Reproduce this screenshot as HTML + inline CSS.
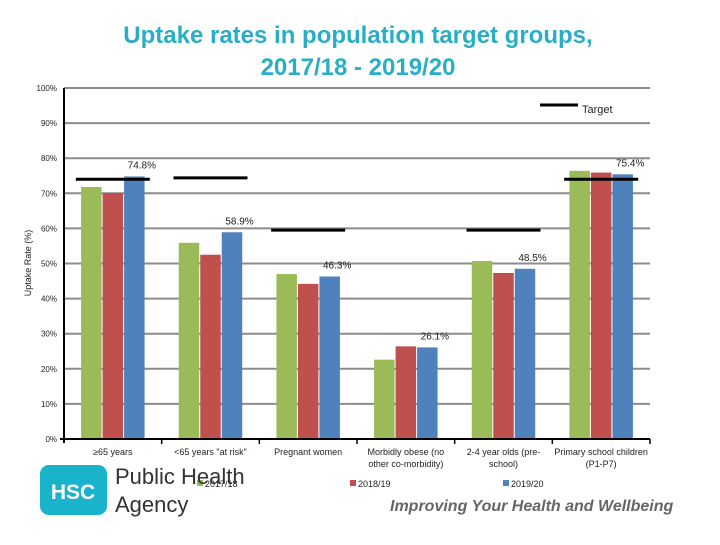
<!DOCTYPE html>
<html><head><meta charset="utf-8"><style>
body{margin:0;background:#fff;width:720px;height:540px;overflow:hidden;font-family:"Liberation Sans",sans-serif}
</style></head><body>
<svg width="720" height="540" xmlns="http://www.w3.org/2000/svg" id="chart">
<text x="358" y="43" text-anchor="middle" font-size="24" font-weight="bold" fill="#2aaec6">Uptake rates in population target groups,</text>
<text x="358" y="75" text-anchor="middle" font-size="24" font-weight="bold" fill="#2aaec6">2017/18 - 2019/20</text>
<g id="grid"></g><g id="bars"></g><g id="targets"></g><g id="labels"></g><g id="axes"></g>
<text transform="translate(31,263) rotate(-90)" text-anchor="middle" font-size="9" fill="#222">Uptake Rate (%)</text>
<line x1="540" y1="105" x2="578" y2="105" stroke="#000" stroke-width="3"/>
<text x="582" y="113" font-size="11" fill="#222">Target</text>
<g><rect x="197" y="480" width="6" height="6" fill="#9bbb59"/><text x="205" y="487" font-size="9" fill="#222">2017/18</text></g>
<g><rect x="350" y="480" width="6" height="6" fill="#c0504d"/><text x="358" y="487" font-size="9" fill="#222">2018/19</text></g>
<g><rect x="503" y="480" width="6" height="6" fill="#4f81bd"/><text x="511" y="487" font-size="9" fill="#222">2019/20</text></g>
<g>
<rect x="40" y="465" width="67" height="50" rx="9" fill="#1ab3cc"/>
<text x="73" y="499" text-anchor="middle" font-size="21" font-weight="bold" fill="#fff">HSC</text>
<text x="115" y="484" font-size="22" fill="#333">Public Health</text>
<text x="115" y="512" font-size="22" fill="#333">Agency</text>
</g>
<text x="390" y="511" font-size="16" font-weight="bold" font-style="italic" fill="#666">Improving Your Health and Wellbeing</text>
</svg>
<script>
const categories=[["≥65 years"],["<65 years \"at risk\""],["Pregnant women"],["Morbidly obese (no","other co-morbidity)"],["2-4 year olds (pre-","school)"],["Primary school children","(P1-P7)"]];
const s2017=[71.8,55.9,47.0,22.6,50.7,76.4];
const s2018=[70.1,52.5,44.2,26.4,47.3,75.9];
const s2019=[74.8,58.9,46.3,26.1,48.5,75.4];
const targets=[74,74.4,59.5,null,59.5,74];
const valueLabels=["74.8%","58.9%","46.3%","26.1%","48.5%","75.4%"];
const yTicks=[0,10,20,30,40,50,60,70,80,90,100];
const NS="http://www.w3.org/2000/svg";
const X0=64,X1=650,Y0=439,Y1=88,cw=(X1-X0)/categories.length;
const y=v=>Y0-(v/100)*(Y0-Y1);
const cx=i=>X0+cw*(i+0.5);
function mk(t,a,p){const e=document.createElementNS(NS,t);for(const k in a)e.setAttribute(k,a[k]);document.getElementById(p).appendChild(e);return e;}
yTicks.forEach(t=>{
 const g=mk('line',{x1:X0,x2:X1,y1:y(t),y2:y(t),stroke:'#8c8c8c','stroke-width':2},'grid');
 
 
 const tx=mk('text',{x:57,y:y(t)+3,'text-anchor':'end','font-size':8,fill:'#222'},'axes');
 tx.textContent=t+'%';
 
 
});
const ya=mk('line',{x1:X0,x2:X0,y1:Y1,y2:Y0+4,stroke:'#000','stroke-width':2},'axes');


const xa=mk('line',{x1:X0-4,x2:X1,y1:Y0,y2:Y0,stroke:'#000','stroke-width':2},'axes');


const series=[[s2017,'#9bbb59'],[s2018,'#c0504d'],[s2019,'#4f81bd']];
const bw=20.5,gap=1;
categories.forEach((c,i)=>{
 const tk=mk('line',{x1:X0+cw*(i+1),x2:X0+cw*(i+1),y1:Y0,y2:Y0+5,stroke:'#000','stroke-width':1.5},'axes');
 
 
 series.forEach((s,j)=>{
  const bx=cx(i)+(j-1.5)*(bw+gap)+gap/2;
  const r=mk('rect',{x:bx,y:y(s[0][i]),width:bw,height:Y0-y(s[0][i]),fill:s[1]},'bars');
  
  
 });
 if(targets[i]!=null){
  const l=mk('line',{x1:cx(i)-37,x2:cx(i)+37,y1:y(targets[i]),y2:y(targets[i]),stroke:'#000','stroke-width':3},'targets');
  
  
 }
 const vl=mk('text',{x:cx(i)+29,y:y(s2019[i])-8,'text-anchor':'middle','font-size':10,fill:'#222'},'labels');
 vl.textContent=valueLabels[i];
 
 
 c.forEach((ln,k)=>{
  const t=mk('text',{x:cx(i),y:455+k*12,'text-anchor':'middle','font-size':9,fill:'#222'},'axes');
  t.textContent=ln;
  
  
 });
});
</script>
</body></html>
